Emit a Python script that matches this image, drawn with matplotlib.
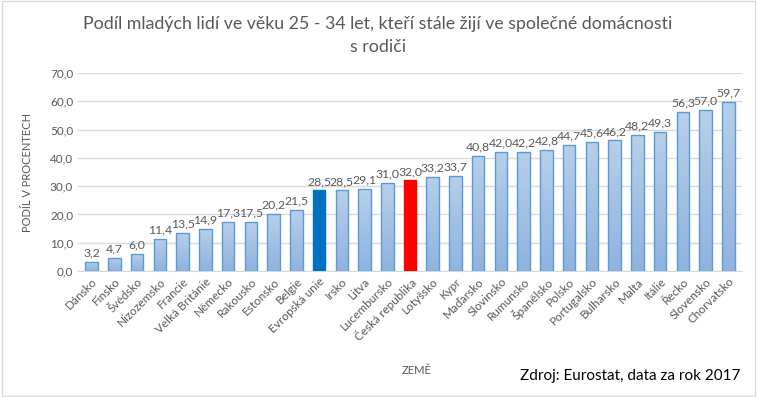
import numpy as np
import matplotlib.pyplot as plt
from matplotlib.patches import Rectangle
from matplotlib.colors import LinearSegmentedColormap

# data
zeme = ['Dánsko', 'Finsko', 'Švédsko', 'Nizozemsko', 'Francie', 'Velká Británie',
        'Německo', 'Rakousko', 'Estonsko', 'Belgie', 'Evropská unie', 'Irsko', 'Litva',
        'Lucembursko', 'Česká republika', 'Lotyšsko', 'Kypr', 'Maďarsko', 'Slovinsko',
        'Rumunsko', 'Španělsko', 'Polsko', 'Portugalsko', 'Bulharsko', 'Malta', 'Itálie',
        'Řecko', 'Slovensko', 'Chorvatsko']
podil = [3.2, 4.7, 6.0, 11.4, 13.5, 14.9, 17.3, 17.5, 20.2, 21.5, 28.5, 28.5, 29.1,
         31.0, 32.0, 33.2, 33.7, 40.8, 42.0, 42.2, 42.8, 44.7, 45.6, 46.2, 48.2, 49.3,
         56.3, 57.0, 59.7]

plt.rcParams['font.family'] = ['Lato', 'DejaVu Sans']
grey = '#595959'

fig = plt.figure(figsize=(7.57, 3.97), dpi=100)
ax = fig.add_axes([78 / 757, 126 / 397, 664 / 757, 198 / 397])

grad = LinearSegmentedColormap.from_list('g', ['#8fb3df', '#b7cfea'])

x = np.arange(len(zeme))
bars = ax.bar(x, podil, width=0.55, color='none', edgecolor='#5b9bd5', linewidth=1, zorder=4)

for b, z in zip(bars, zeme):
    if z == 'Evropská unie':
        b.set_facecolor('#0070c0')
        b.set_edgecolor('#0070c0')
    elif z == 'Česká republika':
        b.set_facecolor('#ff0000')
        b.set_edgecolor('#ff0000')
    else:
        # gradient fill, lighter at the top
        bx, by = b.get_x(), b.get_y()
        im = ax.imshow(np.linspace(0, 1, 100).reshape(-1, 1), cmap=grad, origin='lower',
                       extent=[bx, bx + b.get_width(), by, by + b.get_height()],
                       aspect='auto', zorder=3)
        im.set_clip_path(b)

for xi, v in zip(x, podil):
    ax.text(xi, v + 1.2, f'{v:.1f}'.replace('.', ','), ha='center', va='bottom',
            fontsize=8.8, color=grey)

ax.set_ylim(0, 70)
ax.set_xlim(-0.6, len(zeme) - 0.4)
ax.set_yticks(np.arange(0, 71, 10))
ax.set_yticklabels([f'{t:.1f}'.replace('.', ',') for t in np.arange(0, 71, 10)])
ax.grid(axis='y', color='#d9d9d9', linewidth=1, zorder=0)
for s in ['top', 'right', 'left']:
    ax.spines[s].set_visible(False)
ax.spines['bottom'].set_color('#d9d9d9')
ax.tick_params(axis='both', length=0, colors=grey, labelsize=8.5)
ax.set_xticks(x)
ax.set_xticklabels(zeme, rotation=45, ha='right', rotation_mode='anchor')

ax.set_ylabel('PODÍL V PROCENTECH', fontsize=8, color=grey, labelpad=12)
fig.text(417 / 757, 1 - 370 / 397, 'ZEMĚ', fontsize=8, color=grey, ha='center', va='center')
fig.text(740 / 757, 1 - 376 / 397, 'Zdroj: Eurostat, data za rok 2017', fontsize=11,
         color='black', ha='right', va='center')

fig.text(378 / 757, 1 - 24 / 397, 'Podíl mladých lidí ve věku 25 - 34 let, kteří stále žijí ve společné domácnosti',
         fontsize=12.8, color=grey, ha='center', va='center')
fig.text(378 / 757, 1 - 47 / 397, 's rodiči', fontsize=12.8, color=grey, ha='center', va='center')

fig.patches.append(Rectangle((0.002, 0.003), 0.995, 0.994, transform=fig.transFigure,
                             fill=False, edgecolor='#d9d9d9', linewidth=1))

fig.savefig('out.png', dpi=100)
